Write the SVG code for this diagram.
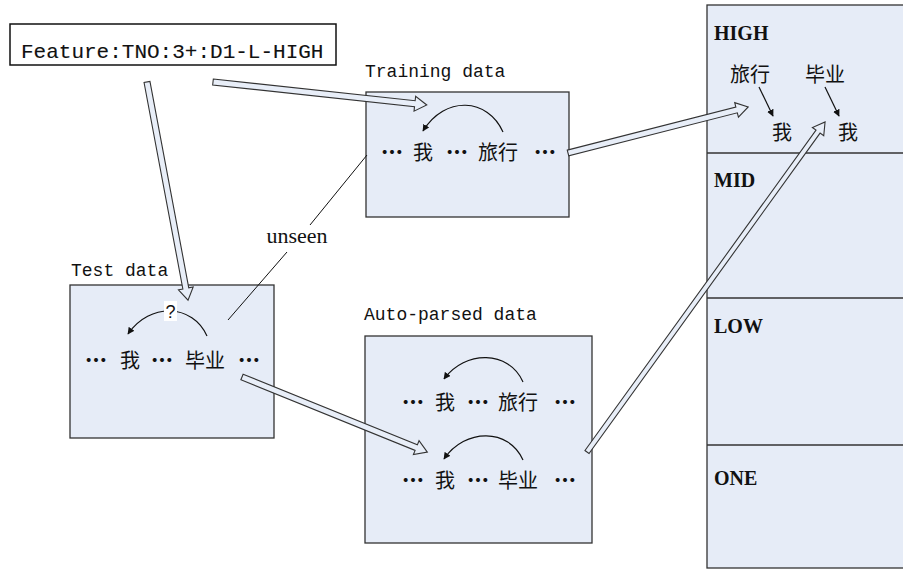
<svg xmlns="http://www.w3.org/2000/svg" width="903" height="570" viewBox="0 0 903 570">
<defs>
<style>
.box{fill:#e6ecf7;stroke:#333;stroke-width:1.3}
.mono{font-family:"Liberation Mono","DejaVu Sans Mono",monospace;font-size:18px;fill:#111}
.cjk{font-family:"Noto Sans CJK SC","Noto Sans CJK JP",sans-serif;font-size:20px;fill:#111}
.el{font-weight:900;font-size:22px}
.lvl{font-family:"Liberation Serif",serif;font-weight:bold;font-size:20px;fill:#111}
.blk{fill:#e8eef8;stroke:#333;stroke-width:1.1;stroke-linejoin:miter}
.arc{fill:none;stroke:#111;stroke-width:1.2;marker-end:url(#ah)}
.thin{fill:none;stroke:#111;stroke-width:1}
</style>
<marker id="ah" viewBox="0 0 10 10" refX="9" refY="5" markerWidth="7" markerHeight="7" orient="auto" markerUnits="userSpaceOnUse">
<path d="M0,0 L10,5 L0,10 z" fill="#111"/>
</marker>
</defs>
<rect width="903" height="570" fill="#fff"/>

<g id="feature">
<rect x="10" y="24" width="326" height="41" fill="#fff" stroke="#111" stroke-width="1.5"/>
<text x="21" y="58" class="mono" style="font-size:21px;stroke:#111;stroke-width:0.12">Feature:TNO:3+:D1-L-HIGH</text>
</g>

<g id="training">
<text x="365" y="77" class="mono">Training data</text>
<rect x="366" y="92" width="203" height="125" class="box"/>
<text y="160" class="cjk"><tspan x="381" class="el">…</tspan><tspan x="413">我</tspan><tspan x="446" class="el">…</tspan><tspan x="478">旅行</tspan><tspan x="534" class="el">…</tspan></text>
<path class="arc" d="M503,132 C488,98 445,95 423,131"/>
</g>

<g id="test">
<text x="71" y="276" class="mono">Test data</text>
<rect x="70" y="285" width="204" height="153" class="box"/>
<text y="368" class="cjk"><tspan x="85" class="el">…</tspan><tspan x="120">我</tspan><tspan x="151" class="el">…</tspan><tspan x="185">毕业</tspan><tspan x="238" class="el">…</tspan></text>
<path class="arc" d="M207,336 C193,304 150,302 128,334"/>
<rect x="164" y="301" width="13" height="20" fill="#fff"/>
<text x="170.5" y="318" text-anchor="middle" font-family="Liberation Sans, sans-serif" font-size="18" fill="#111">?</text>
</g>

<g id="autoparsed">
<text x="364" y="320" class="mono">Auto-parsed data</text>
<rect x="365" y="336" width="227" height="207" class="box"/>
<text y="410" class="cjk"><tspan x="402" class="el">…</tspan><tspan x="435">我</tspan><tspan x="467" class="el">…</tspan><tspan x="498">旅行</tspan><tspan x="554" class="el">…</tspan></text>
<text y="488" class="cjk"><tspan x="402" class="el">…</tspan><tspan x="435">我</tspan><tspan x="467" class="el">…</tspan><tspan x="498">毕业</tspan><tspan x="554" class="el">…</tspan></text>
<path class="arc" d="M523,382 C509,350 465,350 444,379"/>
<path class="arc" d="M523,460 C509,428 465,428 444,459"/>
</g>

<g id="levels">
<rect x="707" y="5" width="210" height="563" class="box"/>
<line x1="707" y1="153" x2="903" y2="153" stroke="#333" stroke-width="1.3"/>
<line x1="707" y1="298" x2="903" y2="298" stroke="#333" stroke-width="1.3"/>
<line x1="707" y1="445" x2="903" y2="445" stroke="#333" stroke-width="1.3"/>
<text x="714" y="40" class="lvl">HIGH</text>
<text x="714" y="187" class="lvl">MID</text>
<text x="714" y="333" class="lvl">LOW</text>
<text x="714" y="485" class="lvl">ONE</text>
<text x="730" y="82" class="cjk">旅行</text>
<text x="805" y="82" class="cjk">毕业</text>
<text x="772" y="140" class="cjk">我</text>
<text x="838" y="140" class="cjk">我</text>
<line x1="759" y1="87" x2="773" y2="116" class="arc"/>
<line x1="825" y1="87" x2="839" y2="116" class="arc"/>
</g>

<g id="connectors">
<line x1="367" y1="155" x2="310" y2="225" class="thin"/>
<line x1="287" y1="252" x2="228" y2="320" class="thin"/>
<text x="297" y="243" text-anchor="middle" font-family="Liberation Serif, serif" font-size="22" fill="#111">unseen</text>
<polygon class="blk" transform="translate(213,82) rotate(6.13)" points="0,-3 203,-3 203,-7.5 215,0 203,7.5 203,3 0,3"/>
<polygon class="blk" transform="translate(147,82) rotate(79.35)" points="0,-3 210,-3 210,-7.5 222,0 210,7.5 210,3 0,3"/>
<polygon class="blk" transform="translate(568,153) rotate(-14.34)" points="0,-3 174,-3 174,-7.5 186,0 174,7.5 174,3 0,3"/>
<polygon class="blk" transform="translate(242,377) rotate(22.07)" points="0,-3 188,-3 188,-7.5 200,0 188,7.5 188,3 0,3"/>
<polygon class="blk" transform="translate(587,452) rotate(-54.2)" points="0,-2.5 395,-2.5 395,-7 407,0 395,7 395,2.5 0,2.5"/>
</g>
</svg>
